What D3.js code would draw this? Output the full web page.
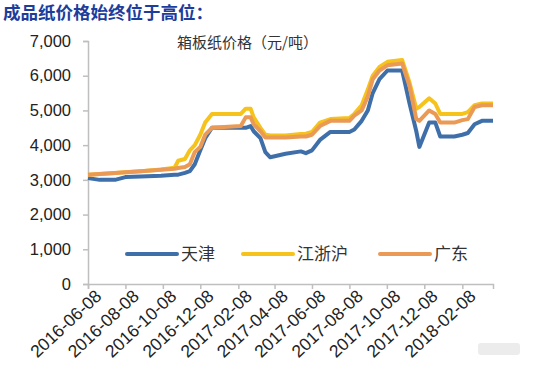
<!DOCTYPE html>
<html>
<head>
<meta charset="utf-8">
<script src="https://cdn.jsdelivr.net/npm/d3@7"></script>
<style>
  body { margin: 0; background: #fff; }
  text { font-family: "Liberation Sans", Arial, "Noto Sans CJK SC", sans-serif; }
  .cjk { font-family: "Noto Sans CJK SC", "Liberation Sans", sans-serif; }
</style>
</head>
<body>
<script>
// dates (key points of each line)
var dates = ["2016-06-08","2016-06-27","2016-07-22","2016-08-08","2016-09-02","2016-10-05",
  "2016-10-27","2016-11-02","2016-11-13","2016-11-21","2016-11-29","2016-12-08","2016-12-16",
  "2016-12-27","2017-02-12","2017-02-20","2017-02-28","2017-03-05","2017-03-16","2017-03-24",
  "2017-04-01","2017-04-26","2017-05-21","2017-05-29","2017-06-08","2017-06-21","2017-07-08",
  "2017-08-08","2017-08-16","2017-08-28","2017-09-07","2017-09-15","2017-09-26","2017-10-09",
  "2017-11-02","2017-11-14","2017-11-25","2017-11-30","2017-12-16","2017-12-26","2018-01-03",
  "2018-01-26","2018-02-08","2018-02-17","2018-02-28","2018-03-12","2018-03-30"];

var tianjin = [3050,3000,3000,3080,3100,3120,3150,3150,3200,3250,3450,3850,4200,
  4500,4500,4500,4550,4400,4200,3800,3650,3750,3820,3770,3850,4150,4380,
  4380,4450,4700,5000,5500,5900,6150,6150,5200,4400,3950,4650,4650,4250,
  4250,4300,4350,4600,4700,4700];

var jiangzhehu = [3150,3170,3200,3220,3250,3300,3350,3550,3600,3850,4000,4300,4650,
  4900,4900,5050,5050,4800,4500,4300,4280,4280,4320,4330,4380,4650,4750,
  4780,4900,5150,5600,6000,6250,6400,6450,5800,5050,5100,5350,5200,4900,
  4900,4900,4950,5150,5200,5200];

var guangdong = [3150,3170,3200,3220,3250,3290,3320,3340,3370,3450,3800,3950,4300,
  4500,4550,4800,4800,4600,4400,4220,4220,4220,4250,4250,4300,4550,4700,
  4700,4850,5000,5400,5900,6150,6300,6350,5700,4750,4700,5000,4900,4650,
  4650,4720,4750,5100,5150,5150];

var seriesNames = ["天津", "江浙沪", "广东"];
var seriesColors = ["#3f6fa9", "#f6c21c", "#ea9a55"];
var xTickLabels = ["2016-06-08","2016-08-08","2016-10-08","2016-12-08","2017-02-08","2017-04-08",
  "2017-06-08","2017-08-08","2017-10-08","2017-12-08","2018-02-08"];
var yTicks = [0,1000,2000,3000,4000,5000,6000,7000];

var W = 543, H = 373;
var parse = d3.timeParse("%Y-%m-%d");

var svg = d3.select("body").append("svg")
    .attr("width", W)
    .attr("height", H);

// page heading
svg.append("text")
    .attr("class", "cjk")
    .attr("x", 3)
    .attr("y", 19)
    .attr("fill", "#1d3d9c")
    .attr("font-size", "17.5px")
    .attr("font-weight", "bold")
    .text("成品纸价格始终位于高位：");

var x = d3.scaleTime()
    .domain([parse("2016-06-08"), parse("2018-03-30")])
    .range([88, 493]);

var y = d3.scaleLinear()
    .domain([0, 7000])
    .range([284, 41]);

// y axis
var yAxis = svg.append("g")
    .attr("transform", "translate(88,0)")
    .call(d3.axisLeft(y).tickValues(yTicks).tickSize(5).tickPadding(12)
      .tickFormat(d3.format(",")));
yAxis.select(".domain").attr("stroke", "#bfbfbf").attr("stroke-width", 1.5);
yAxis.selectAll(".tick line").attr("stroke", "#bfbfbf").attr("stroke-width", 1.5);
yAxis.selectAll(".tick text")
    .attr("fill", "#222")
    .attr("font-size", "16.5px")
    .style("font-family", "Liberation Sans, Arial, sans-serif");

// x axis
var xAxis = svg.append("g")
    .attr("transform", "translate(0,284)")
    .call(d3.axisBottom(x).tickValues(xTickLabels.map(parse)).tickSizeOuter(0).tickSize(5)
      .tickFormat(d3.timeFormat("%Y-%m-%d")));
xAxis.select(".domain").attr("stroke", "#bfbfbf").attr("stroke-width", 1.5);
xAxis.selectAll(".tick line").attr("stroke", "#bfbfbf").attr("stroke-width", 1.5);
xAxis.selectAll(".tick text")
    .attr("fill", "#222")
    .attr("font-size", "17.5px")
    .style("font-family", "Liberation Sans, Arial, sans-serif")
    .attr("text-anchor", "end")
    .attr("transform", "translate(10,9) rotate(-43)")
    .attr("dy", "0.35em")
    .attr("y", 0)
    .attr("x", 0);

// chart title
svg.append("text")
    .attr("class", "cjk")
    .attr("x", 177)
    .attr("y", 48)
    .attr("fill", "#333")
    .attr("font-size", "15px")
    .text("箱板纸价格（元/吨）");

var line = d3.line()
    .x(function(d, i) { return x(parse(dates[i])); })
    .y(function(d) { return y(d); });

var allSeries = [tianjin, jiangzhehu, guangdong];
allSeries.forEach(function(s, i) {
  svg.append("path")
      .datum(s)
      .attr("fill", "none")
      .attr("stroke", seriesColors[i])
      .attr("stroke-width", 4)
      .attr("stroke-linejoin", "round")
      .attr("d", line);
});

// legend
var legendX = [127, 243, 380];
seriesNames.forEach(function(name, i) {
  svg.append("line")
      .attr("x1", legendX[i]).attr("x2", legendX[i] + 50)
      .attr("y1", 254).attr("y2", 254)
      .attr("stroke", seriesColors[i])
      .attr("stroke-width", 4)
      .attr("stroke-linecap", "round");
  svg.append("text")
      .attr("class", "cjk")
      .attr("x", legendX[i] + 54)
      .attr("y", 260)
      .attr("fill", "#333")
      .attr("font-size", "17px")
      .text(name);
});

// faint watermark block bottom right
svg.append("rect")
    .attr("x", 478).attr("y", 343)
    .attr("width", 42).attr("height", 12)
    .attr("rx", 3)
    .attr("fill", "#ececec");
</script>
</body>
</html>
